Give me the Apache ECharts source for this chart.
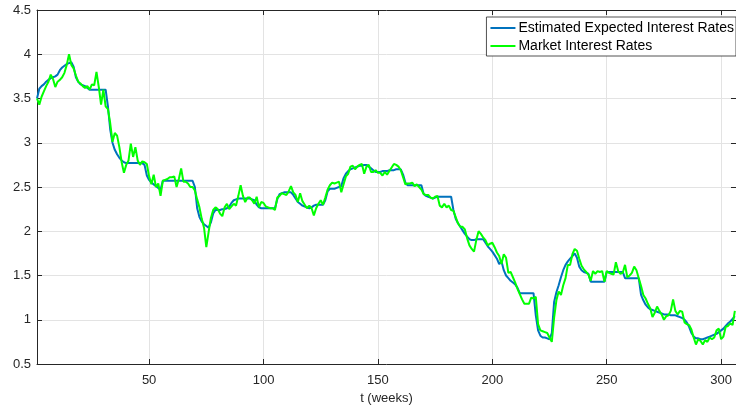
<!DOCTYPE html>
<html>
<head>
<meta charset="utf-8">
<script src="https://cdn.jsdelivr.net/npm/echarts@6/dist/echarts.min.js"></script>
<style>
  html, body { margin: 0; padding: 0; background: #fff; }
  #chart { width: 736px; height: 410px; }
</style>
</head>
<body>
<div id="chart"></div>
<script>
// Weekly estimated expected interest rates (model output)
const estimatedRates = [
  3.50,3.61,3.64,3.66,3.69,3.71,3.73,3.74,3.75,3.77,
  3.82,3.85,3.87,3.89,3.90,3.91,3.86,3.74,3.69,3.66,
  3.65,3.64,3.62,3.60,3.60,3.60,3.60,3.60,3.60,3.60,
  3.60,3.41,3.15,3.00,2.92,2.87,2.83,2.80,2.78,2.77,
  2.77,2.77,2.77,2.77,2.77,2.77,2.77,2.75,2.63,2.58,
  2.55,2.53,2.51,2.49,2.47,2.57,2.57,2.57,2.57,2.57,
  2.57,2.57,2.57,2.57,2.57,2.57,2.57,2.57,2.57,2.50,
  2.26,2.16,2.11,2.08,2.06,2.04,2.10,2.20,2.24,2.24,
  2.24,2.25,2.25,2.26,2.28,2.32,2.35,2.36,2.37,2.37,
  2.37,2.37,2.37,2.37,2.36,2.35,2.30,2.27,2.26,2.26,
  2.26,2.26,2.26,2.26,2.26,2.36,2.42,2.43,2.44,2.44,
  2.44,2.44,2.41,2.37,2.33,2.31,2.29,2.28,2.27,2.26,
  2.27,2.29,2.30,2.30,2.30,2.30,2.35,2.45,2.48,2.48,
  2.48,2.49,2.50,2.51,2.60,2.65,2.68,2.70,2.71,2.72,
  2.73,2.74,2.74,2.75,2.75,2.73,2.71,2.69,2.67,2.67,
  2.67,2.68,2.68,2.68,2.69,2.69,2.69,2.70,2.70,2.70,
  2.64,2.55,2.52,2.52,2.52,2.52,2.52,2.52,2.52,2.42,
  2.40,2.39,2.38,2.37,2.38,2.39,2.39,2.39,2.39,2.39,
  2.39,2.39,2.24,2.14,2.09,2.05,2.01,1.97,1.94,1.91,
  1.90,1.90,1.91,1.91,1.91,1.91,1.87,1.83,1.80,1.77,
  1.73,1.69,1.63,1.66,1.56,1.50,1.47,1.44,1.42,1.40,
  1.36,1.30,1.30,1.30,1.30,1.30,1.30,1.30,1.05,0.88,
  0.82,0.80,0.80,0.79,0.78,0.85,1.20,1.31,1.39,1.48,
  1.56,1.62,1.66,1.69,1.72,1.75,1.70,1.60,1.56,1.54,
  1.53,1.52,1.43,1.43,1.43,1.43,1.43,1.43,1.43,1.54,
  1.54,1.54,1.54,1.54,1.54,1.54,1.54,1.47,1.47,1.47,
  1.47,1.47,1.47,1.47,1.28,1.22,1.17,1.14,1.12,1.11,
  1.10,1.09,1.08,1.07,1.06,1.06,1.06,1.05,1.05,1.05,
  1.04,1.03,1.02,1.00,0.97,0.92,0.85,0.81,0.79,0.79,
  0.78,0.78,0.79,0.80,0.81,0.82,0.83,0.84,0.86,0.88,
  0.90,0.93,0.96,0.98,1.01,1.04
];

// Weekly observed market interest rates
const marketRates = [
  3.50,3.43,3.52,3.58,3.64,3.69,3.77,3.72,3.63,3.69,
  3.71,3.74,3.79,3.88,4.00,3.88,3.84,3.76,3.69,3.67,
  3.64,3.62,3.64,3.60,3.66,3.65,3.80,3.63,3.43,3.60,
  3.41,3.38,3.22,3.01,3.11,3.08,2.95,2.78,2.66,2.75,
  2.80,2.99,2.84,2.95,2.80,2.75,2.79,2.78,2.76,2.62,
  2.53,2.64,2.50,2.54,2.40,2.57,2.58,2.59,2.61,2.61,
  2.62,2.50,2.59,2.71,2.56,2.56,2.54,2.50,2.50,2.46,
  2.36,2.27,2.14,2.04,1.82,1.99,2.15,2.24,2.27,2.25,
  2.20,2.17,2.27,2.31,2.25,2.28,2.31,2.29,2.40,2.52,
  2.40,2.33,2.38,2.38,2.35,2.31,2.39,2.27,2.33,2.32,
  2.28,2.27,2.26,2.26,2.24,2.38,2.40,2.43,2.42,2.41,
  2.45,2.51,2.44,2.41,2.33,2.43,2.34,2.30,2.26,2.29,
  2.26,2.18,2.26,2.31,2.35,2.30,2.38,2.47,2.52,2.55,
  2.54,2.55,2.56,2.44,2.53,2.62,2.65,2.73,2.74,2.70,
  2.73,2.75,2.76,2.65,2.73,2.75,2.67,2.67,2.69,2.66,
  2.66,2.63,2.67,2.64,2.68,2.72,2.76,2.75,2.73,2.69,
  2.61,2.53,2.54,2.54,2.55,2.51,2.53,2.50,2.47,2.42,
  2.41,2.41,2.38,2.37,2.39,2.40,2.29,2.27,2.31,2.27,
  2.29,2.24,2.23,2.16,2.09,2.05,2.05,2.02,1.92,1.84,
  1.80,1.77,1.90,2.00,1.97,1.93,1.90,1.84,1.86,1.87,
  1.82,1.76,1.72,1.63,1.74,1.70,1.53,1.54,1.48,1.42,
  1.35,1.29,1.23,1.18,1.18,1.18,1.25,1.24,1.26,0.95,
  0.88,0.87,0.86,0.85,0.80,0.75,1.02,1.22,1.32,1.28,
  1.39,1.47,1.62,1.62,1.74,1.80,1.78,1.69,1.61,1.57,
  1.54,1.51,1.44,1.55,1.52,1.55,1.54,1.55,1.43,1.55,
  1.53,1.52,1.51,1.65,1.55,1.52,1.53,1.62,1.48,1.50,
  1.53,1.60,1.56,1.47,1.38,1.28,1.24,1.18,1.13,1.03,
  1.08,1.15,1.10,1.06,1.00,1.04,1.05,1.10,1.23,1.10,
  1.06,1.10,1.09,0.97,0.95,0.94,0.89,0.80,0.72,0.78,
  0.76,0.72,0.77,0.75,0.80,0.78,0.80,0.88,0.90,0.78,
  0.81,0.92,0.93,0.96,0.94,1.10
];

const xTicks = [50, 100, 150, 200, 250, 300];
const seriesNames = ['Estimated Expected Interest Rates', 'Market Interest Rates'];
const xAxisTitle = 't (weeks)';

const weeks = estimatedRates.map((_, i) => i + 1);
const toPairs = arr => arr.map((v, i) => [weeks[i], v]);

const axisColor = '#262626';
const gridColor = '#e3e3e3';
const font = 'Liberation Sans, Arial, Helvetica, sans-serif';

const chart = echarts.init(document.getElementById('chart'), null, { renderer: 'canvas' });

const baseX = {
  type: 'value', min: 1, max: 306.5,
  axisLine: { show: true, onZero: false, lineStyle: { color: axisColor, width: 1 } },
  axisTick: { show: true, inside: true, length: 5, customValues: xTicks, lineStyle: { color: axisColor } },
  splitLine: { show: false }
};
const baseY = {
  type: 'value', min: 0.5, max: 4.5, interval: 0.5,
  axisLine: { show: true, onZero: false, lineStyle: { color: axisColor, width: 1 } },
  axisTick: { show: true, inside: true, length: 5, lineStyle: { color: axisColor } },
  splitLine: { show: false }
};

chart.setOption({
  animation: false,
  backgroundColor: '#ffffff',
  textStyle: { fontFamily: font },
  grid: { left: 37, right: 0, top: 10, bottom: 46, containLabel: false },
  legend: {
    data: seriesNames,
    orient: 'vertical',
    right: 0, top: 17,
    itemWidth: 25, itemHeight: 2, itemGap: 2,
    icon: 'rect',
    backgroundColor: '#ffffff',
    borderColor: '#262626', borderWidth: 0.8, borderRadius: 0,
    padding: [3, 2, 2, 4],
    textStyle: { fontSize: 14, lineHeight: 16, color: '#000', fontFamily: font, padding: [0, 0, 0, -2] }
  },
  xAxis: [
    Object.assign({}, baseX, {
      position: 'bottom',
      name: xAxisTitle, nameLocation: 'middle', nameGap: 28,
      nameTextStyle: { fontSize: 13, color: axisColor, fontFamily: font },
      axisLabel: { show: true, customValues: xTicks, fontSize: 13, color: axisColor, margin: 10, fontFamily: font },
      splitLine: { show: true, lineStyle: { color: gridColor, width: 1 } }
    }),
    Object.assign({}, baseX, { position: 'top', axisLabel: { show: false } })
  ],
  yAxis: [
    Object.assign({}, baseY, {
      position: 'left',
      axisLabel: { show: true, fontSize: 13, color: axisColor, margin: 6, fontFamily: font,
        formatter: v => String(+v.toFixed(1)) },
      splitLine: { show: true, lineStyle: { color: gridColor, width: 1 } }
    }),
    Object.assign({}, baseY, { position: 'right', axisLabel: { show: false } })
  ],
  series: [
    {
      name: seriesNames[0], type: 'line', data: toPairs(estimatedRates),
      showSymbol: false, symbol: 'none',
      lineStyle: { color: '#0072BD', width: 2 },
      itemStyle: { color: '#0072BD' },
      z: 3
    },
    {
      name: seriesNames[1], type: 'line', data: toPairs(marketRates),
      showSymbol: false, symbol: 'none',
      lineStyle: { color: '#00FF00', width: 2 },
      itemStyle: { color: '#00FF00' },
      z: 4
    }
  ]
});
</script>
</body>
</html>
